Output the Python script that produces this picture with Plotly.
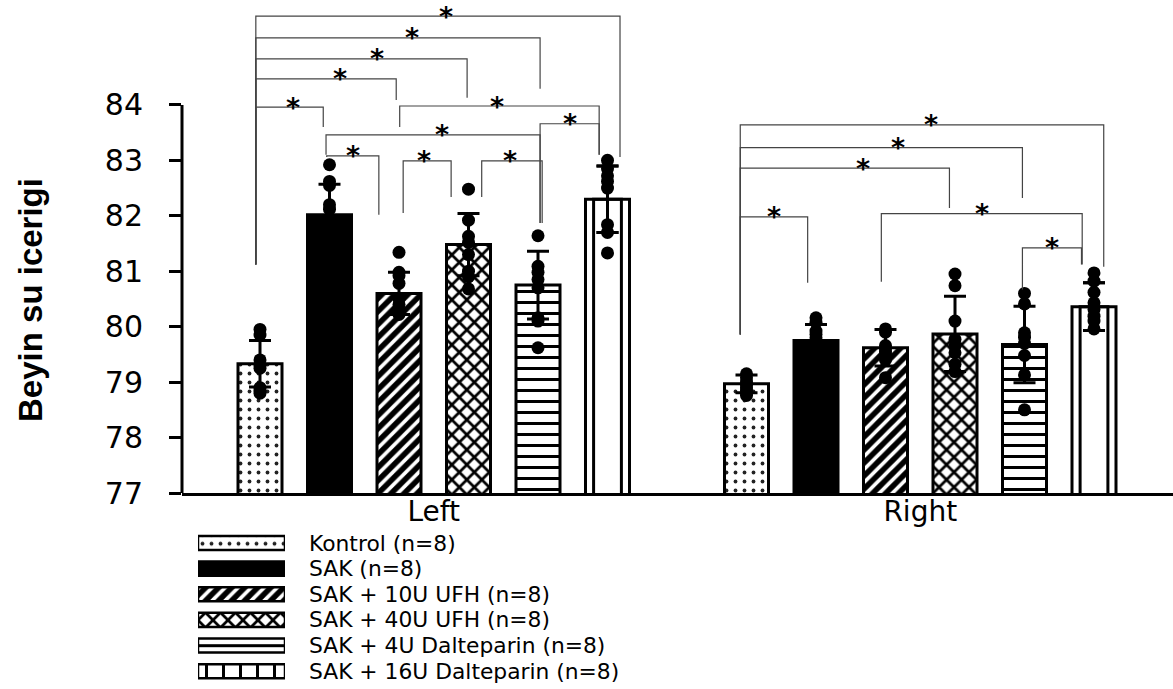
import plotly.graph_objects as go

# ---------------- data ----------------
groups = ["Left", "Right"]
series = ["Kontrol (n=8)", "SAK (n=8)", "SAK + 10U UFH (n=8)", "SAK + 40U UFH (n=8)",
          "SAK + 4U Dalteparin (n=8)", "SAK + 16U Dalteparin (n=8)"]

left_means = [79.33, 82.02, 80.60, 81.48, 80.75, 82.30]
right_means = [78.97, 79.75, 79.62, 79.87, 79.68, 80.36]
left_sd = [0.42, 0.55, 0.38, 0.56, 0.61, 0.60]
right_sd = [0.16, 0.29, 0.33, 0.68, 0.69, 0.43]

left_points = [
    [79.95, 79.85, 79.40, 79.30, 79.25, 78.90, 78.85, 78.80],
    [82.92, 82.62, 82.55, 82.20, 82.12, 81.60, 81.50, 80.90],
    [81.34, 80.98, 80.92, 80.78, 80.50, 80.40, 80.30, 80.22],
    [82.48, 81.92, 81.63, 81.52, 81.30, 81.00, 80.90, 80.68],
    [81.64, 81.09, 80.98, 80.85, 80.70, 80.16, 80.10, 79.62],
    [83.00, 82.85, 82.72, 82.62, 82.50, 81.84, 81.70, 81.33],
]
right_points = [
    [79.15, 79.08, 79.00, 78.95, 78.90, 78.85, 78.80, 78.76],
    [80.16, 80.08, 79.92, 79.86, 79.80, 79.50, 79.40, 79.30],
    [79.96, 79.90, 79.66, 79.60, 79.55, 79.50, 79.40, 79.08],
    [80.95, 80.74, 80.10, 79.77, 79.65, 79.53, 79.32, 79.19],
    [80.60, 80.41, 79.89, 79.81, 79.70, 79.48, 79.13, 78.50],
    [80.97, 80.82, 80.62, 80.43, 80.31, 80.19, 80.10, 79.96],
]

y_ticks = [77, 78, 79, 80, 81, 82, 83, 84]

# significance comparisons: (bar a, bar b, bracket height, leg a bottom, leg b bottom)
left_brackets = [
    (0, 5, 85.60, 81.12, 83.06),
    (0, 4, 85.21, 81.12, 84.29),
    (0, 3, 84.83, 81.12, 84.13),
    (0, 2, 84.47, 81.12, 84.09),
    (0, 1, 83.96, 81.12, 83.60),
    (2, 5, 83.98, 83.60, 83.10),
    (4, 5, 83.66, 81.87, 83.10),
    (1, 4, 83.46, 83.10, 81.87),
    (1, 2, 83.08, 83.06, 82.02),
    (2, 3, 82.99, 82.05, 82.34),
    (3, 4, 82.99, 82.34, 81.87),
]
right_brackets = [
    (0, 5, 83.64, 79.86, 81.08),
    (0, 4, 83.23, 79.86, 82.32),
    (0, 3, 82.86, 79.86, 82.14),
    (0, 1, 81.98, 79.86, 80.79),
    (2, 5, 82.04, 80.81, 81.12),
    (4, 5, 81.42, 80.67, 81.12),
]

# ---------------- styling ----------------
W, H = 1173, 689
GROUP_STEP = 7
BAR_W = 0.633
INNER_W = 0.40          # inner outline of the 16U bars
PX_PER_SLOT = 69.5
AXIS_X = 182            # pixel of the y axis line
BASE_Y = 493            # pixel of the x axis line
PX_PER_UNIT = 55.5

# leg nudges (in bar slots) so the bracket legs do not sit on top of each other
left_nudge = [(-0.06, 0.18), (-0.06, 0.03), (-0.06, -0.02), (-0.06, -0.04), (-0.06, -0.09),
              (0.01, -0.12), (0.03, -0.12), (-0.05, 0.03), (-0.04, -0.29), (0.06, -0.25), (0.19, 0.06)]
right_nudge = [(-0.09, 0.14), (-0.09, -0.03), (-0.09, -0.08), (-0.09, -0.12), (-0.06, -0.17), (-0.03, -0.18)]
# small horizontal pixel shifts of asterisks so neighbouring stars stay apart
left_star_shift = [8, 14, 16, 14, 3, -2, 0, 9, 0, -3, -2]
right_star_shift = [9, 17, 18, 0, 0, 0]

patterns = [
    dict(shape=".", size=9, solidity=0.14, fgcolor="#222", bgcolor="white", fgopacity=1),
    None,
    dict(shape="/", size=9.2, solidity=0.6, fgcolor="black", bgcolor="white", fgopacity=1),
    dict(shape="x", size=10.6, solidity=0.45, fgcolor="black", bgcolor="white", fgopacity=1),
    dict(shape="-", size=11, solidity=0.27, fgcolor="black", bgcolor="white", fgopacity=1),
    None,
]
legend_patterns = list(patterns)
legend_patterns[5] = dict(shape="|", size=17, solidity=0.18, fgcolor="black", bgcolor="white", fgopacity=1)

TXT = "DejaVu Sans, Liberation Sans, Arial, sans-serif"

fig = go.Figure()

for i, name in enumerate(series):
    xs = [g * GROUP_STEP + i for g in range(len(groups))]
    ys = [left_means[i], right_means[i]]
    sds = [left_sd[i], right_sd[i]]
    marker = dict(color="black" if i == 1 else "white", line=dict(color="black", width=3))
    if patterns[i] is not None:
        marker["pattern"] = patterns[i]
    fig.add_trace(go.Bar(
        x=xs, y=ys, width=BAR_W, name=name, marker=marker, showlegend=False,
        error_y=dict(type="data", array=sds, visible=True, color="black", thickness=3, width=11),
        xaxis="x", yaxis="y",
    ))
    if i == 5:
        # inner outline -> double vertical lines like the original fill
        fig.add_trace(go.Bar(
            x=xs, y=ys, width=INNER_W, name=name, showlegend=False, hoverinfo="skip",
            marker=dict(color="rgba(0,0,0,0)", line=dict(color="black", width=3)),
            xaxis="x", yaxis="y",
        ))
        fig.add_trace(go.Scatter(
            x=xs, y=ys, mode="markers", marker=dict(size=0.1, color="black", opacity=0),
            error_y=dict(type="data", array=sds, visible=True, color="black", thickness=3, width=11),
            showlegend=False, hoverinfo="skip", xaxis="x", yaxis="y",
        ))

for g, pts_all in enumerate([left_points, right_points]):
    for i, pts in enumerate(pts_all):
        fig.add_trace(go.Scatter(
            x=[g * GROUP_STEP + i] * len(pts), y=pts, mode="markers",
            marker=dict(color="black", size=13), showlegend=False, xaxis="x", yaxis="y",
        ))

# legend drawn as its own tiny subplot so swatches can be wide
for i, name in enumerate(series):
    marker = dict(color="black" if i == 1 else "white", line=dict(color="black", width=2.5))
    if legend_patterns[i] is not None:
        marker["pattern"] = legend_patterns[i]
    fig.add_trace(go.Bar(
        x=[1], y=[i], base=0, orientation="h", width=0.55, marker=marker,
        showlegend=False, xaxis="x2", yaxis="y2",
    ))
    fig.add_annotation(text=name, xref="paper", yref="y2", x=308 / W, y=i,
                       xanchor="left", yanchor="middle", showarrow=False, borderpad=0,
                       font=dict(family=TXT, size=21.8, color="black"))

shapes = []
for g, (brs, nud, shifts) in enumerate([(left_brackets, left_nudge, left_star_shift),
                                        (right_brackets, right_nudge, right_star_shift)]):
    for (a, b, yh, ya, yb), (da, db), sx in zip(brs, nud, shifts):
        xa = g * GROUP_STEP + a + da
        xb = g * GROUP_STEP + b + db
        shapes.append(dict(type="path", xref="x", yref="y",
                           path=f"M {xa},{ya} L {xa},{yh} L {xb},{yh} L {xb},{yb}",
                           line=dict(color="#444", width=1.2)))
        fig.add_annotation(text="<b>*</b>", x=(xa + xb) / 2, y=yh, xref="x", yref="y",
                           xanchor="center", yanchor="middle", showarrow=False, borderpad=0,
                           xshift=sx, font=dict(family=TXT, size=27, color="black"))

# y axis line only spanning the tick range
shapes.append(dict(type="line", xref="x domain", yref="y", x0=0, x1=0,
                   y0=y_ticks[0], y1=y_ticks[-1], line=dict(color="black", width=3)))

fig.add_annotation(text="<b>Beyin su icerigi</b>", xref="paper", yref="paper",
                   x=30 / W, y=(H - 300) / H, textangle=-90, showarrow=False,
                   xanchor="center", yanchor="middle",
                   font=dict(family="Liberation Sans, Arial, sans-serif", size=33, color="black"))

x_left = -(260 - AXIS_X) / PX_PER_SLOT
x_right = x_left + (W - AXIS_X) / PX_PER_SLOT
y_bottom = y_ticks[0]
y_top = y_ticks[-1] + 105 / PX_PER_UNIT

fig.update_layout(
    width=W, height=H, margin=dict(l=0, r=0, t=0, b=0),
    paper_bgcolor="white", plot_bgcolor="white",
    barmode="overlay", showlegend=False, shapes=shapes,
    xaxis=dict(domain=[AXIS_X / W, 1], range=[x_left, x_right], showgrid=False, zeroline=False,
               showline=True, linecolor="black", linewidth=3,
               tickvals=[2.5, 2.5 + GROUP_STEP], ticktext=groups, ticks="",
               ticklabelstandoff=-9,
               tickfont=dict(family=TXT, size=28, color="black"), automargin=False),
    yaxis=dict(domain=[(H - BASE_Y) / H, 1], range=[y_bottom, y_top], showgrid=False, zeroline=False,
               showline=False, tickvals=y_ticks, ticks="outside", ticklen=12, tickwidth=2.5,
               tickcolor="black", ticklabelstandoff=20,
               tickfont=dict(family=TXT, size=30, color="black"), automargin=False),
    xaxis2=dict(domain=[198 / W, 285 / W], range=[0, 1], visible=False, fixedrange=True),
    yaxis2=dict(domain=[(H - 684) / H, (H - 530.2) / H], range=[5.5, -0.5], visible=False),
)

fig.write_html("out.html", config={"displayModeBar": False},
               post_script="document.body.style.margin='0';document.body.style.overflow='hidden';")
